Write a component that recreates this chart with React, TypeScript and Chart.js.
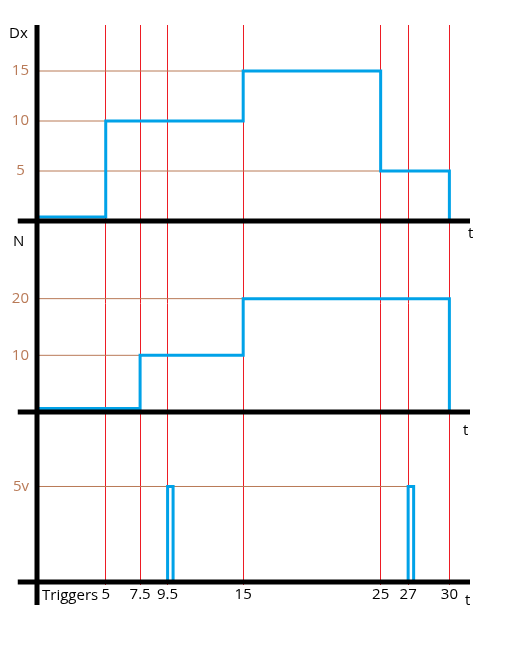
import { useEffect, useRef } from 'react';
import { Chart, registerables } from 'chart.js';

Chart.register(...registerables);

// ---- data ----
const timeMarks = [5, 7.5, 9.5, 15, 25, 27, 30]; // labelled instants on the t axis

const dxTimes = [0, 5, 15, 25, 30];
const dxValues = [0.4, 10, 15, 5, 0];
const dxTicks = [5, 10, 15];

const nTimes = [0, 7.5, 15, 30];
const nValues = [0.6, 10, 20, 0];
const nTicks = [10, 20];

const trigTimes = [0, 9.5, 9.9, 27, 27.4];
const trigValues = [0, 5, 0, 5, 0];
const trigTicks = [5];

// ---- styling / layout constants ----
const BLUE = '#00A2E8';
const RED = '#ED1C24';
const BROWN = '#B97A57';
const FONT = '"Open Sans", "DejaVu Sans", sans-serif';
const X_MIN = 0;
const X_MAX = 31.5;
const AXIS_LEFT = -1.4;

const toPoints = (xs: number[], ys: number[]) => xs.map((x, i) => ({ x, y: ys[i] }));

// guide line from the y axis to the start of the last segment at each tick level
const guides = (xs: number[], ys: number[], levels: number[], axis: string) =>
  levels.map((lv) => {
    let end = 0;
    ys.forEach((v, i) => {
      if (v === lv) end = xs[i];
    });
    return {
      data: [
        { x: 0, y: lv },
        { x: end, y: lv },
      ],
      yAxisID: axis,
      borderColor: BROWN,
      borderWidth: 1,
      pointRadius: 0,
      order: 2,
    };
  });

const stepSet = (xs: number[], ys: number[], axis: string) => ({
  data: toPoints(xs, ys),
  yAxisID: axis,
  stepped: 'before' as const,
  borderColor: BLUE,
  borderWidth: 3,
  borderJoinStyle: 'miter' as const,
  pointRadius: 0,
  fill: false,
  clip: false as const,
  order: 1,
});

const axesPlugin = {
  id: 'handAxes',
  afterDraw(chart: any) {
    const { ctx, chartArea, scales } = chart;
    const x0 = scales.x.getPixelForValue(0);
    const xl = scales.x.getPixelForValue(AXIS_LEFT);
    const xr = scales.x.getPixelForValue(X_MAX);
    ctx.save();
    ctx.strokeStyle = '#000';
    ctx.lineWidth = 5;
    ctx.lineCap = 'butt';
    // vertical axis
    ctx.beginPath();
    ctx.moveTo(x0, chartArea.top);
    ctx.lineTo(x0, scales.yT.getPixelForValue(-1.2));
    ctx.stroke();
    // horizontal axes
    ['yDx', 'yN', 'yT'].forEach((id) => {
      const y = scales[id].getPixelForValue(0);
      ctx.beginPath();
      ctx.moveTo(xl, y);
      ctx.lineTo(xr, y);
      ctx.stroke();
    });
    // texts
    ctx.fillStyle = '#000';
    ctx.font = `15px ${FONT}`;
    ctx.textBaseline = 'middle';
    ctx.textAlign = 'left';
    ctx.fillText('Dx', 9, scales.yDx.top + 9);
    ctx.fillText('N', 13, scales.yN.top + 21);
    ctx.fillText('t', xr - 2, scales.yDx.getPixelForValue(0) + 13);
    ctx.fillText('t', xr - 7, scales.yN.getPixelForValue(0) + 19);
    ctx.fillText('t', xr - 5, scales.yT.getPixelForValue(0) + 19);
    ctx.fillText('Triggers', x0 + 5, scales.yT.getPixelForValue(0) + 14);
    ctx.restore();
  },
};

const yScale = (max: number, ticks: number[], weight: number, suffix = '') => ({
  type: 'linear' as const,
  position: 'left' as const,
  stack: 'panels',
  stackWeight: weight,
  min: 0,
  max,
  grid: { display: false, drawTicks: false },
  border: { display: false },
  afterBuildTicks: (s: any) => {
    s.ticks = ticks.map((v) => ({ value: v }));
  },
  afterFit: (s: any) => {
    s.width = 37;
  },
  ticks: {
    color: BROWN,
    font: { family: FONT, size: 15 },
    padding: 8,
    crossAlign: 'center' as const,
    callback: (v: any) => `${v}${suffix}`,
  },
});

export default function App() {
  const ref = useRef<HTMLCanvasElement>(null);
  useEffect(() => {
    document.body.style.margin = '0';
    if (!ref.current) return;
    const chart = new Chart(ref.current, {
      type: 'line',
      data: {
        datasets: [
          stepSet(dxTimes, dxValues, 'yDx'),
          stepSet(nTimes, nValues, 'yN'),
          stepSet(trigTimes, trigValues, 'yT'),
          ...guides(dxTimes, dxValues, dxTicks, 'yDx'),
          ...guides(nTimes, nValues, nTicks, 'yN'),
          ...guides(trigTimes, trigValues, trigTicks, 'yT'),
        ] as any,
      },
      options: {
        animation: false,
        responsive: false,
        devicePixelRatio: 1,
        layout: { padding: { top: 25, right: 40, left: 0, bottom: 0 } },
        plugins: { legend: { display: false }, tooltip: { enabled: false } },
        scales: {
          x: {
            type: 'linear',
            min: X_MIN,
            max: X_MAX,
            z: 1,
            afterBuildTicks: (s: any) => {
              s.ticks = timeMarks.map((v) => ({ value: v }));
            },
            afterFit: (s: any) => {
              s.height = 66;
            },
            grid: { color: RED, lineWidth: 1, tickLength: 3 },
            border: { display: false },
            ticks: {
              color: '#000',
              font: { family: FONT, size: 15 },
              padding: 1,
              maxRotation: 0,
              autoSkip: false,
              callback: (v: any) => String(v),
            },
          },
          // stacked panels are laid out bottom-up in declaration order
          yT: yScale(8.9, trigTicks, 170, 'v'),
          yN: yScale(33.7, nTicks, 191),
          yDx: yScale(19.6, dxTicks, 196),
        } as any,
      },
      plugins: [axesPlugin],
    });
    return () => chart.destroy();
  }, []);
  return <canvas ref={ref} width={510} height={648} style={{ display: 'block' }} />;
}
